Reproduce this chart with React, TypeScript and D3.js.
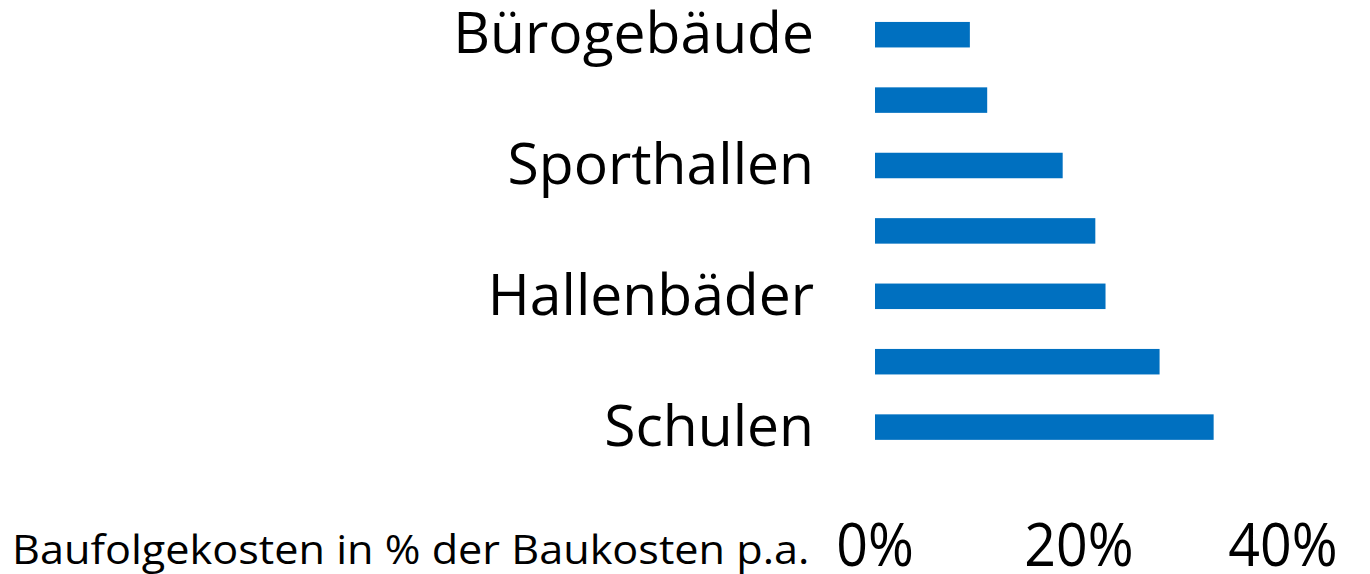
import React from "react";
import * as d3 from "d3";

const categories = ["Bürogebäude", "", "Sporthallen", "", "Hallenbäder", "", "Schulen"];
const values = [9.3, 11.0, 18.4, 21.6, 22.6, 27.9, 33.2];
const tickValues = [0, 20, 40];
const axisTitle = "Baufolgekosten in % der Baukosten p.a.";

const W = 1370;
const H = 574;
const FONT = "'Open Sans', 'Noto Sans', sans-serif";
const BAR = "#0070C0";

export default function App() {
  const x = d3.scaleLinear().domain([0, 40]).range([875, 1283]);
  const idx = categories.map((_, i) => i);
  const y = d3
    .scaleBand<number>()
    .domain(idx)
    .range([2, 459.8])
    .paddingInner(0.61)
    .paddingOuter(0.305);

  return (
    <svg
      width={W}
      height={H}
      style={{ position: "absolute", left: 0, top: 0, display: "block", background: "#fff" }}
      fontFamily={FONT}
    >
      {idx.map((i) => (
        <rect
          key={"b" + i}
          x={x(0)}
          y={y(i)}
          width={x(values[i]) - x(0)}
          height={y.bandwidth()}
          fill={BAR}
        />
      ))}
      {idx.map((i) =>
        categories[i] ? (
          <text
            key={"l" + i}
            x={814}
            y={(y(i) as number) + y.bandwidth() / 2 + 18.5}
            textAnchor="end"
            fontSize={57}
            fill="#000"
          >
            {categories[i]}
          </text>
        ) : null
      )}
      {tickValues.map((t) => (
        <text
          key={"t" + t}
          transform={`translate(${x(t)},566) scale(0.925,1)`}
          textAnchor="middle"
          fontSize={60}
          fill="#000"
        >
          {t + "%"}
        </text>
      ))}
      <text transform="translate(12,564) scale(1.067,1)" fontSize={40.5} fill="#000">
        {axisTitle}
      </text>
    </svg>
  );
}
